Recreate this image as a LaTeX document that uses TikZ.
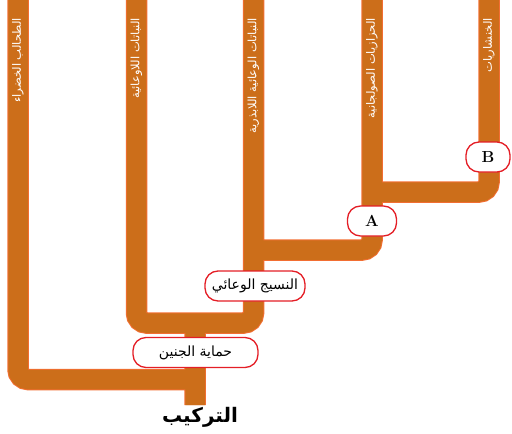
\documentclass[tikz,border=0pt]{standalone}
\usepackage{fontspec}
\newfontfamily\arabicfont[Script=Arabic]{DejaVu Sans}
\TeXXeTstate=1
\definecolor{barfill}{RGB}{204,110,26}
\definecolor{baredge}{RGB}{242,110,50}
\definecolor{tagred}{RGB}{228,30,38}

\begin{document}
\begin{tikzpicture}[x=1pt,y=-1pt,
  tag node/.style={draw=tagred,line width=1.3pt,fill=white,rounded corners=13pt,
    inner sep=0pt,minimum height=30pt,font=\arabicfont\fontsize{14}{16}\selectfont},
  letter node/.style={tag node,font=\rmfamily\bfseries\fontsize{16}{18}\selectfont},
  clade label/.style={rotate=90,anchor=east,text=white,inner sep=0pt,
    font=\arabicfont\fontsize{11.5}{13}\selectfont},
  bar edge/.style={draw=baredge,line width=21.5pt,rounded corners=10pt},
  bar body/.style={draw=barfill,line width=19.5pt,rounded corners=10pt}]

  \useasboundingbox (0,0) rectangle (512,434);

  % branches of the tree
  \foreach \layer in {bar edge,bar body}
    \draw[\layer] (18,-3) |- (205,379.5)
      (136.5,-3) |- (253.5,323) -- (253.5,-3)
      (195,323) -- (195,405)
      (253.5,250) -| (372,-3)
      (372,192) -| (489,-3);

  % groups
  \node[clade label] (algae) at (18,18) {\beginR الطحالب الخضراء\endR};
  \node[clade label] (nonvasc) at (136.5,18) {\beginR النباتات اللاوعائية\endR};
  \node[clade label] (seedless) at (253.5,18) {\beginR النباتات الوعائية اللابذرية\endR};
  \node[clade label] (club) at (372,18) {\beginR الحزازيات الصولجانية\endR};
  \node[clade label] (ferns) at (489,18) {\beginR الخنشاريات\endR};

  % traits
  \node[tag node,minimum width=100pt] (vasc) at (255,286) {\beginR النسيج الوعائي\endR};
  \node[tag node,minimum width=125pt] (embryo) at (195.5,352.5) {\beginR حماية الجنين\endR};
  \node[letter node,minimum width=49pt] (A) at (372,221) {A};
  \node[letter node,minimum width=44pt] (B) at (488,157) {B};

  \node[font=\arabicfont\bfseries\fontsize{20}{24}\selectfont] (title) at (200,417) {\beginR التركيب\endR};

\end{tikzpicture}
\end{document}
